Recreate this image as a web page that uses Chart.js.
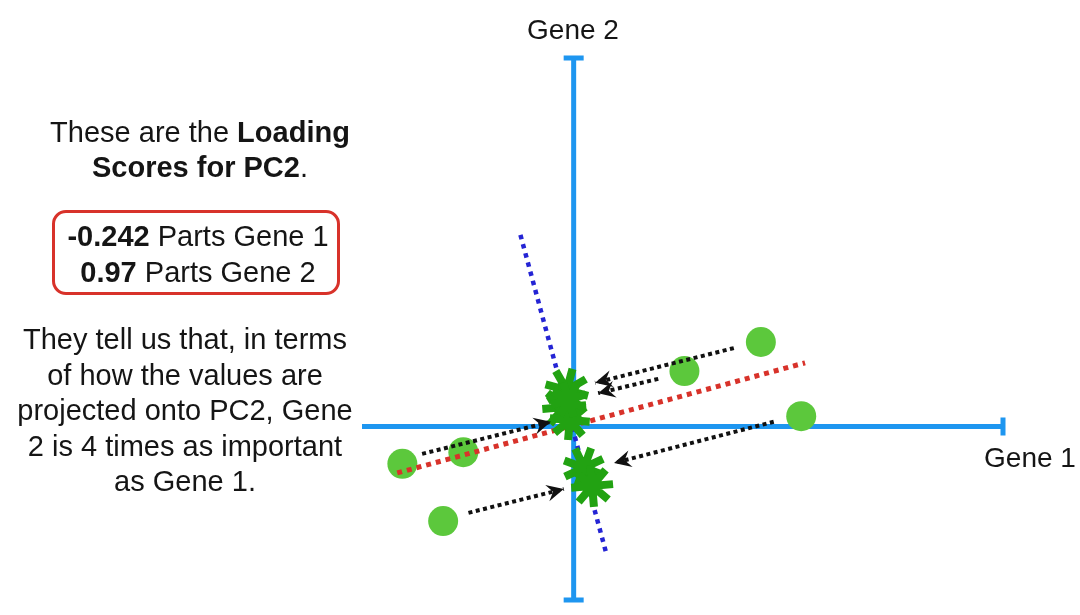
<!DOCTYPE html>
<html>
<head>
<meta charset="utf-8">
<script src="https://cdn.jsdelivr.net/npm/chart.js@4.4.1/dist/chart.umd.min.js"></script>
<style>
  body { margin: 0; background: #fff; }
  #wrap { position: relative; width: 1080px; height: 615px; font-family: "Liberation Sans", Arial, sans-serif; color: #151515; }
  canvas { position: absolute; left: 0; top: 0; }
  .t { position: absolute; text-align: center; font-size: 29px; white-space: nowrap; }
  #box { position: absolute; left: 52px; top: 210px; width: 282px; height: 79px; border: 3px solid #d8322a; border-radius: 14px; }
</style>
</head>
<body>
<div id="wrap">
  <canvas id="pcaChart" width="1080" height="615"></canvas>
  <div class="t" style="left:0;width:400px;top:115px;line-height:35px">These are the <b>Loading</b><br><b>Scores for PC2</b>.</div>
  <div id="box"></div>
  <div class="t" style="left:0;width:396px;top:218px;line-height:36px"><b>-0.242</b> Parts Gene 1<br><b>0.97</b> Parts Gene 2</div>
  <div class="t" style="left:0;width:370px;top:322px;line-height:35.5px">They tell us that, in terms<br>of how the values are<br>projected onto PC2, Gene<br>2 is 4 times as important<br>as Gene 1.</div>
  <div class="t" style="left:473px;width:200px;top:14px;font-size:28px">Gene 2</div>
  <div class="t" style="left:980px;width:100px;top:442px;font-size:28px">Gene 1</div>
</div>
<script>
// original samples
const gene1 = [-3.99, -2.57, -3.04, 2.58, 4.36, 5.30];
const gene2 = [-0.86, -0.59, -2.18, 1.28, 1.95, 0.24];

// PC1 (red) and PC2 (blue) lines, end points
const pc1X = [-4.11, 5.39];
const pc1Y = [-1.07, 1.47];
const pc2X = [-1.24, 0.75];
const pc2Y = [4.42, -2.89];

// samples projected onto PC2
const projX = [-0.16, -0.22, -0.09, -0.12, 0.24, 0.43];
const projY = [0.84, 0.45, 0.15, 0.62, -0.95, -1.37];

// arrows: start -> end
const arrowFromX = [3.73, 1.97, -3.53, 4.66, -2.45];
const arrowFromY = [1.81, 1.10, -0.63, 0.11, -1.99];
const arrowToX = [0.50, 0.57, -0.53, 0.94, -0.23];
const arrowToY = [1.01, 0.77, 0.11, -0.84, -1.44];

const toPoints = (xs, ys) => xs.map((x, i) => ({ x, y: ys[i] }));

const axesPlugin = {
  id: "geneAxes",
  beforeDatasetsDraw(chart) {
    const { ctx, chartArea: a, scales } = chart;
    const x0 = scales.x.getPixelForValue(0);
    const y0 = scales.y.getPixelForValue(0);
    ctx.save();
    ctx.strokeStyle = "#1e96f0";
    ctx.lineWidth = 5;
    ctx.beginPath();
    ctx.moveTo(a.left + 3, y0); ctx.lineTo(a.right, y0);
    ctx.moveTo(x0, a.top); ctx.lineTo(x0, a.bottom);
    ctx.moveTo(a.right, y0 - 9); ctx.lineTo(a.right, y0 + 9);
    ctx.moveTo(x0 - 10, a.top); ctx.lineTo(x0 + 10, a.top);
    ctx.moveTo(x0 - 10, a.bottom); ctx.lineTo(x0 + 10, a.bottom);
    ctx.stroke();
    ctx.restore();
  }
};

const arrowHeads = {
  id: "arrowHeads",
  afterDatasetsDraw(chart) {
    const ctx = chart.ctx;
    chart.data.datasets.forEach((ds, i) => {
      if (!ds.arrow) return;
      const pts = chart.getDatasetMeta(i).data;
      const p = pts[pts.length - 1], q = pts[pts.length - 2];
      const ang = Math.atan2(p.y - q.y, p.x - q.x);
      ctx.save();
      ctx.translate(p.x, p.y);
      ctx.rotate(ang);
      ctx.fillStyle = "#111";
      ctx.beginPath();
      ctx.moveTo(0, 0);
      ctx.lineTo(-17, -8.5);
      ctx.lineTo(-11, 0);
      ctx.lineTo(-17, 8.5);
      ctx.closePath();
      ctx.fill();
      ctx.restore();
    });
  }
};

const arrowSets = arrowFromX.map((fx, i) => ({
  arrow: true,
  data: toPoints([fx, arrowToX[i]], [arrowFromY[i], arrowToY[i]]),
  showLine: true,
  borderColor: "#111",
  borderWidth: 4,
  borderDash: [4, 3.5],
  pointRadius: 0,
  order: 2
}));

new Chart(document.getElementById("pcaChart"), {
  type: "scatter",
  data: {
    datasets: [
      {
        data: toPoints(projX, projY),
        pointStyle: "star",
        pointRadius: [22, 22, 20, 18, 21, 21],
        borderWidth: 8,
        borderColor: "#22a212",
        backgroundColor: "#22a212",
        rotation: [15, 40, 5, 28, 20, 40],
        order: 1
      },
      ...arrowSets,
      {
        data: toPoints(pc1X, pc1Y),
        showLine: true,
        borderColor: "#d8322a",
        borderWidth: 5,
        borderDash: [5, 5],
        pointRadius: 0,
        order: 3
      },
      {
        data: toPoints(gene1, gene2),
        pointRadius: 15,
        borderWidth: 0,
        backgroundColor: "#5cc83c",
        order: 4
      },
      {
        data: toPoints(pc2X, pc2Y),
        showLine: true,
        borderColor: "#2424d4",
        borderWidth: 4.5,
        borderDash: [4.5, 5],
        pointRadius: 0,
        order: 5
      }
    ]
  },
  options: {
    responsive: false,
    animation: false,
    events: [],
    clip: false,
    layout: { autoPadding: false, padding: { left: 359, right: 77, top: 58, bottom: 15 } },
    scales: {
      x: { type: "linear", min: -5, max: 10, display: false },
      y: { type: "linear", min: -4, max: 8.5, display: false }
    },
    plugins: { legend: { display: false }, tooltip: { enabled: false } }
  },
  plugins: [axesPlugin, arrowHeads]
});
</script>
</body>
</html>
